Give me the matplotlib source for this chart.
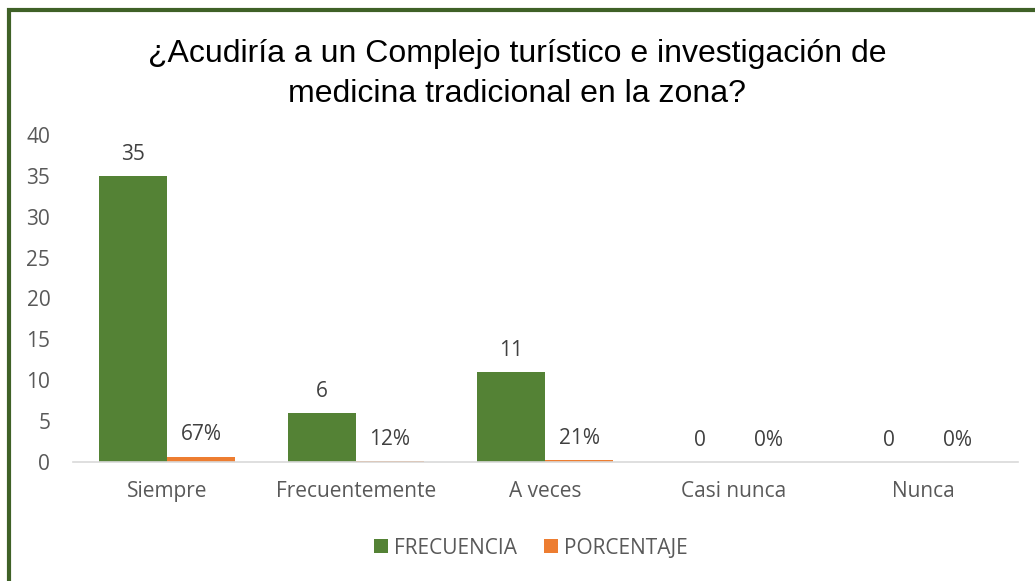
import matplotlib
matplotlib.use("Agg")
import matplotlib.pyplot as plt
import numpy as np
from matplotlib.patches import Rectangle

categories = ["Siempre", "Frecuentemente", "A veces", "Casi nunca", "Nunca"]
frecuencia = [35, 6, 11, 0, 0]
porcentaje = [0.67, 0.12, 0.21, 0.0, 0.0]
pct_labels = ["67%", "12%", "21%", "0%", "0%"]
yticks = [0, 5, 10, 15, 20, 25, 30, 35, 40]
title = "¿Acudiría a un Complejo turístico e investigación de\nmedicina tradicional en la zona?"

W, H = 1035, 581
fig = plt.figure(figsize=(W/100, H/100), dpi=100)
fig.patch.set_facecolor("white")

# border
fig.patches.append(Rectangle((8.5/W, -0.1), 1.2, (H-10)/H + 0.1, transform=fig.transFigure,
                             fill=False, edgecolor="#3f6127", linewidth=3, zorder=10))

x0, x1 = 72.5, 1017.5
yb, yt = 462, 135
ax = fig.add_axes([x0/W, (H-yb)/H, (x1-x0)/W, (yb-yt)/H])
x = np.arange(len(categories))
bw = 0.36
green = "#548235"
orange = "#ED7D31"
gray = "#595959"
font = "Open Sans"
fs = 15

b1 = ax.bar(x - bw/2, frecuencia, bw, color=green, label="FRECUENCIA")
b2 = ax.bar(x + bw/2, porcentaje, bw, color=orange, label="PORCENTAJE")
for i in range(len(categories)):
    ax.annotate(str(frecuencia[i]), (x[i] - bw/2, frecuencia[i]), xytext=(0, 8),
                textcoords="offset points", ha="center", va="bottom",
                fontsize=fs, color="#404040", family=font)
    ax.annotate(pct_labels[i], (x[i] + bw/2, porcentaje[i]), xytext=(0, 8),
                textcoords="offset points", ha="center", va="bottom",
                fontsize=fs, color="#404040", family=font)

ax.set_xlim(-0.5, len(categories) - 0.5)
ax.set_ylim(0, 40)
ax.set_yticks(yticks)
ax.set_xticks(x)
ax.set_xticklabels(categories)
for s in ["top", "right", "left"]:
    ax.spines[s].set_visible(False)
ax.spines["bottom"].set_color("#d9d9d9")
ax.spines["bottom"].set_linewidth(1.2)
ax.tick_params(axis="both", length=0, labelsize=fs, labelcolor=gray)
ax.tick_params(axis="y", pad=16)
ax.tick_params(axis="x", pad=14)
for lab in ax.get_xticklabels() + ax.get_yticklabels():
    lab.set_family(font)

fig.text(0.5, (H-74)/H, title, ha="center", va="center", fontsize=23,
         family="Liberation Sans", color="#000000", linespacing=1.45)

leg = fig.legend(handles=[b1, b2], loc="center", bbox_to_anchor=(531/W, (H-548)/H),
                 ncol=2, frameon=False, prop={"family": font, "size": fs},
                 handlelength=0.65, handleheight=0.65, handletextpad=0.3, columnspacing=1.3)
for t in leg.get_texts():
    t.set_color(gray)

fig.savefig("out.png", dpi=100, facecolor="white")
